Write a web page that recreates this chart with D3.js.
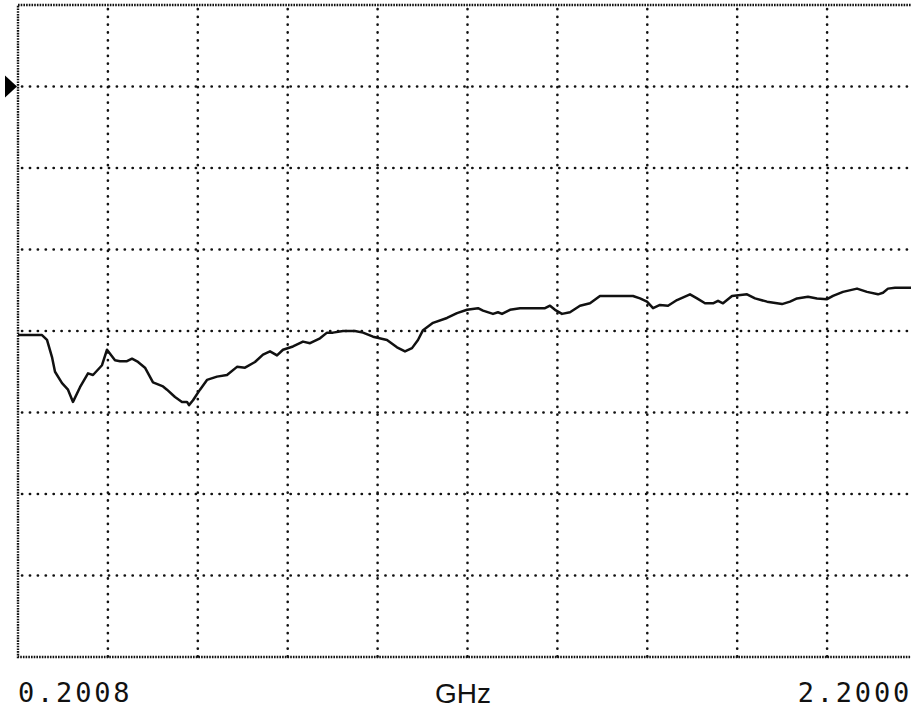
<!DOCTYPE html>
<html>
<head>
<meta charset="utf-8">
<script src="https://cdn.jsdelivr.net/npm/d3@7"></script>
<style>
  body { margin: 0; background: #fff; }
  svg { display: block; }
</style>
</head>
<body>
<svg id="analyzer" width="911" height="710"></svg>
<script>
// sweep 0.2008 .. 2.2000 GHz, 10 dB/div, reference marker at 0 dB
let freqGHz = [0.2008, 0.2542, 0.2653, 0.2764, 0.2831, 0.2987, 0.3120, 0.3231, 0.3387, 0.3565,
  0.3676, 0.3876, 0.3987, 0.4165, 0.4276, 0.4432, 0.4543, 0.4677, 0.4832, 0.5010,
  0.5233, 0.5321, 0.5499, 0.5655, 0.5766, 0.5811, 0.5900, 0.6055, 0.6211, 0.6433,
  0.6656, 0.6878, 0.7056, 0.7278, 0.7456, 0.7612, 0.7768, 0.7901, 0.8123, 0.8346,
  0.8502, 0.8724, 0.8880, 0.9013, 0.9235, 0.9502, 0.9680, 0.9903, 1.0214, 1.0436,
  1.0614, 1.0770, 1.0903, 1.1015, 1.1237, 1.1548, 1.1771, 1.1993, 1.2238, 1.2349,
  1.2571, 1.2682, 1.2771, 1.2949, 1.3172, 1.3728, 1.3839, 1.3950, 1.4106, 1.4283,
  1.4506, 1.4728, 1.4950, 1.5684, 1.5840, 1.5996, 1.6130, 1.6285, 1.6463, 1.6663,
  1.6952, 1.7108, 1.7286, 1.7464, 1.7575, 1.7686, 1.7886, 1.8220, 1.8398, 1.8665,
  1.8887, 1.8998, 1.9176, 1.9332, 1.9576, 1.9776, 2.0000, 2.0132, 2.0354, 2.0666,
  2.0888, 2.1133, 2.1244, 2.1355, 2.1511, 2.1844, 2.2000];
let levelDb = [-30.5, -30.5, -31.1, -33.2, -35.0, -36.4, -37.2, -38.7, -36.9, -35.2,
  -35.4, -34.2, -32.3, -33.6, -33.7, -33.7, -33.4, -33.8, -34.5, -36.3,
  -36.8, -37.2, -38.1, -38.7, -38.7, -39.1, -38.5, -37.2, -36.0, -35.6,
  -35.4, -34.4, -34.5, -33.8, -32.9, -32.5, -33.0, -32.3, -31.9, -31.3,
  -31.5, -30.9, -30.2, -30.2, -30.0, -30.0, -30.2, -30.7, -31.1, -32.0,
  -32.5, -32.1, -31.1, -29.9, -29.0, -28.4, -27.8, -27.4, -27.2, -27.5,
  -27.9, -27.7, -27.9, -27.4, -27.2, -27.2, -26.9, -27.4, -27.9, -27.7,
  -26.9, -26.6, -25.7, -25.7, -26.0, -26.4, -27.2, -26.8, -26.9, -26.2,
  -25.5, -26.0, -26.6, -26.6, -26.3, -26.6, -25.7, -25.5, -26.0, -26.4,
  -26.6, -26.7, -26.4, -26.0, -25.8, -26.0, -26.1, -25.7, -25.2, -24.8,
  -25.2, -25.5, -25.3, -24.8, -24.7, -24.7, -24.7];
let freqLabels = ["0.2008", "2.2000"];
let unitLabel = "GHz";
let refLevel = 0;

let svgc = d3.select("#analyzer");

let x = d3.scaleLinear().domain([0.2008, 2.2]).range([18, 917]);
let y = d3.scaleLinear().domain([-70, 10]).range([657, 5]);

// graticule: 10 x 8 divisions
let xDiv = d3.range(1, 10).map(i => 0.2008 + i * (2.2 - 0.2008) / 10);
let yDiv = d3.range(-60, 10, 10);

svgc.append("g").selectAll("line.v")
    .data(xDiv)
    .join("line")
    .attr("x1", d => x(d)).attr("x2", d => x(d))
    .attr("y1", y(10) + 4).attr("y2", y(-70))
    .attr("stroke", "#111")
    .attr("stroke-width", 2.6)
    .attr("stroke-linecap", "round")
    .attr("stroke-dasharray", "0.2,7.6");

svgc.append("g").selectAll("line.h")
    .data(yDiv)
    .join("line")
    .attr("x1", x(0.2008) + 4).attr("x2", x(2.2))
    .attr("y1", d => y(d)).attr("y2", d => y(d))
    .attr("stroke", "#111")
    .attr("stroke-width", 2.6)
    .attr("stroke-linecap", "round")
    .attr("stroke-dasharray", "0.2,7.7");

// outer frame, densely dotted
svgc.append("rect")
    .attr("x", x(0.2008))
    .attr("y", y(10))
    .attr("width", x(2.2) - x(0.2008))
    .attr("height", y(-70) - y(10))
    .attr("fill", "none")
    .attr("stroke", "#111")
    .attr("stroke-width", 2.4)
    .attr("stroke-dasharray", "1.6,1.1");

// reference marker
let ry = y(refLevel);
svgc.append("path")
    .attr("d", `M5,${ry - 11} L17,${ry} L5,${ry + 11} Z`)
    .attr("fill", "#000");

// trace
let line = d3.line()
    .x((d, i) => x(freqGHz[i]))
    .y(d => y(d));

svgc.append("path")
    .datum(levelDb)
    .attr("d", line)
    .attr("fill", "none")
    .attr("stroke", "#111")
    .attr("stroke-width", 2.5)
    .attr("stroke-linejoin", "round");

// labels
svgc.append("text")
    .attr("x", 18).attr("y", 702)
    .attr("font-family", "DejaVu Sans Mono")
    .attr("font-size", 27)
    .attr("letter-spacing", 2.8)
    .attr("fill", "#111")
    .text(freqLabels[0]);

svgc.append("text")
    .attr("x", 912).attr("y", 702)
    .attr("text-anchor", "end")
    .attr("font-family", "DejaVu Sans Mono")
    .attr("font-size", 27)
    .attr("letter-spacing", 2.8)
    .attr("fill", "#111")
    .text(freqLabels[1]);

svgc.append("text")
    .attr("x", 463).attr("y", 703)
    .attr("text-anchor", "middle")
    .attr("font-family", "Liberation Sans")
    .attr("font-size", 28)
    .attr("fill", "#111")
    .text(unitLabel);
</script>
</body>
</html>
